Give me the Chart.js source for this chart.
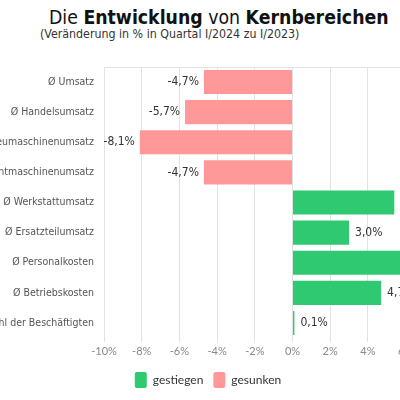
<!DOCTYPE html>
<html>
<head>
<meta charset="utf-8">
<script src="https://cdn.jsdelivr.net/npm/chart.js@4.4.1/dist/chart.umd.min.js"></script>
<style>
  html, body { margin: 0; width: 400px; height: 400px; overflow: hidden; background: #fff; }
  .head { position: absolute; white-space: nowrap; font-family: "DejaVu Sans Condensed", "DejaVu Sans", sans-serif; }
  #title { left: 49px; top: 8px; font-size: 19.3px; line-height: 19px; color: #111; }
  #sub { left: 40px; top: 28px; font-size: 12.3px; line-height: 12px; color: #333; }
  #wrap { position: absolute; left: -65px; top: 0; width: 566px; height: 400px; }
</style>
</head>
<body>
<div id="title" class="head">Die <b>Entwicklung</b> von <b>Kernbereichen</b></div>
<div id="sub" class="head">(Veränderung in % in Quartal I/2024 zu I/2023)</div>
<div id="wrap"><canvas id="chart"></canvas></div>
<script>
const categories = [
  "Ø Umsatz",
  "Ø Handelsumsatz",
  "Ø Neumaschinenumsatz",
  "Ø Gebrauchtmaschinenumsatz",
  "Ø Werkstattumsatz",
  "Ø Ersatzteilumsatz",
  "Ø Personalkosten",
  "Ø Betriebskosten",
  "Ø Anzahl der Beschäftigten"
];
const gestiegen = [null, null, null, null, 5.4, 3.0, 6.2, 4.7, 0.1];
const gesunken = [-4.7, -5.7, -8.1, -4.7, null, null, null, null, null];
const xMin = -10, xMax = 10, xStep = 2;

const FONT = '"DejaVu Sans Condensed", "DejaVu Sans", sans-serif';
Chart.defaults.font.family = FONT;

// value labels next to each bar end
const valueLabels = {
  id: "valueLabels",
  afterDatasetsDraw(chart) {
    const ctx = chart.ctx;
    ctx.save();
    ctx.font = "12px " + FONT;
    ctx.fillStyle = "#333";
    ctx.textBaseline = "middle";
    chart.data.datasets.forEach((ds, i) => {
      chart.getDatasetMeta(i).data.forEach((bar, j) => {
        const v = ds.data[j];
        if (v === null) return;
        const txt = v.toFixed(1).replace(".", ",") + "%";
        ctx.textAlign = v < 0 ? "right" : "left";
        ctx.fillText(txt, bar.x + (v < 0 ? -5 : 6), bar.y);
      });
    });
    ctx.restore();
  }
};

new Chart(document.getElementById("chart"), {
  type: "bar",
  data: {
    labels: categories,
    datasets: [
      { label: "gestiegen", data: gestiegen, backgroundColor: "rgb(46, 201, 113)" },
      { label: "gesunken", data: gesunken, backgroundColor: "rgb(255, 153, 153)" }
    ]
  },
  options: {
    indexAxis: "y",
    responsive: true,
    maintainAspectRatio: false,
    animation: false,
    barPercentage: 1,
    categoryPercentage: 0.8,
    layout: { padding: { top: 67, right: 20, bottom: 2, left: 0 } },
    scales: {
      x: {
        stacked: true,
        min: xMin,
        max: xMax,
        border: { display: false },
        grid: { color: "#e2e2e2", tickLength: 4 },
        ticks: {
          stepSize: xStep,
          color: "#888",
          font: { family: "Lato", size: 11 },
          callback: v => v + "%"
        },
        afterFit: s => { s.height = 24; s.paddingLeft = 0; s.paddingRight = 0; }
      },
      y: {
        stacked: true,
        border: { display: false },
        grid: {
          drawTicks: false,
          color: c => (c.index === 0 ? "#e2e2e2" : "rgba(0,0,0,0)")
        },
        ticks: { color: "#555", font: { size: 10.5 }, padding: 10 },
        afterFit: s => { s.width = 169; s.paddingTop = 0; s.paddingBottom = 0; }
      }
    },
    plugins: {
      legend: {
        position: "bottom",
        labels: {
          boxWidth: 12,
          boxHeight: 16,
          padding: 10,
          useBorderRadius: true,
          borderRadius: 2,
          color: "#333",
          font: { family: "Lato", size: 12 }
        }
      },
      tooltip: { enabled: false }
    }
  },
  plugins: [valueLabels]
});
</script>
</body>
</html>
